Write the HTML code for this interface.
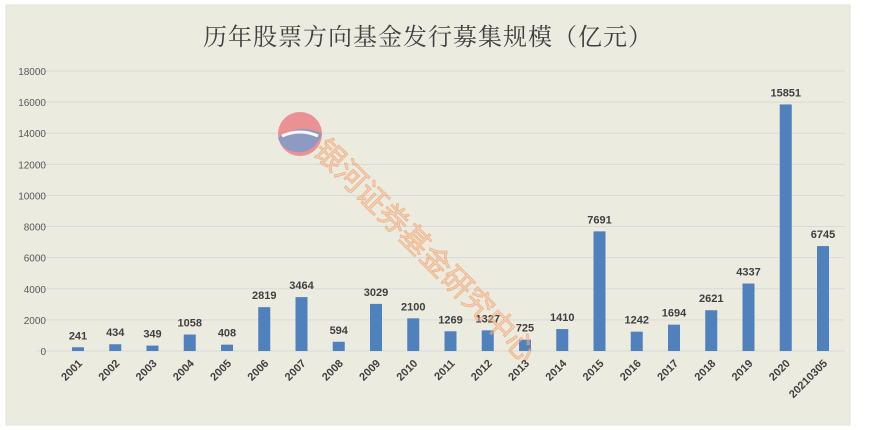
<!DOCTYPE html>
<html><head><meta charset="utf-8"><style>
body{margin:0;background:#fff;width:870px;height:430px;overflow:hidden}
svg{display:block}
</style></head><body>
<svg width="870" height="430">
<rect x="6" y="5" width="844" height="420" fill="#ecebe0" stroke="#e2e1da"/>
<text x="428" y="45" text-anchor="middle" font-family="'Noto Serif CJK SC','Liberation Serif',serif" font-size="24" fill="#404040" letter-spacing="1">历年股票方向基金发行募集规模（亿元）</text>
<g id="grid"></g>
<g id="bars"></g>
<g opacity="0.75">
<circle cx="300" cy="134" r="22" fill="#e8747a"/>
<path d="M278 138 Q300 122 322 134 Q314 154 296 152 Q282 150 278 138Z" fill="#6f7fb8"/>
<path d="M282 136 Q300 128 318 136" stroke="#fff" stroke-width="3" fill="none"/>
<text transform="translate(312,152) rotate(45)" font-family="'Liberation Sans','Noto Sans CJK SC',sans-serif" font-size="30" fill="#f5b98a" fill-opacity="0.7" stroke="#f0a070" stroke-width="0.8">银河证券基金研究中心</text>
</g>
<script>
const categories=["2001","2002","2003","2004","2005","2006","2007","2008","2009","2010","2011","2012","2013","2014","2015","2016","2017","2018","2019","2020","20210305"];
const values=[241,434,349,1058,408,2819,3464,594,3029,2100,1269,1327,725,1410,7691,1242,1694,2621,4337,15851,6745];
const yTicks=[0,2000,4000,6000,8000,10000,12000,14000,16000,18000];
const NS="http://www.w3.org/2000/svg";
const y=v=>351-v*(280/18000);
const x=i=>78+i*37.25;
function mk(t,a,p){const e=document.createElementNS(NS,t);for(const k in a)e.setAttribute(k,a[k]);p.appendChild(e);return e;}
const grid=document.getElementById('grid'),bars=document.getElementById('bars');
yTicks.forEach(t=>{
 const l=mk('line',{x1:36,x2:845,y1:y(t),y2:y(t),stroke:'#d9d9d9','stroke-width':1},grid);
 
 
 const tx=mk('text',{x:46,y:y(t)+4,'text-anchor':'end','font-family':'Liberation Sans,sans-serif','font-size':10,fill:'#595959'},grid);
 tx.textContent=t;
 
 
});
values.forEach((v,i)=>{
 const r=mk('rect',{x:x(i)-6,y:y(v),width:12,height:351-y(v),fill:'#4f81bd'},bars);
 
 
 const lb=mk('text',{x:x(i),y:y(v)-8,'text-anchor':'middle','font-family':'Liberation Sans,sans-serif','font-size':11,'font-weight':'bold',fill:'#404040'},bars);
 lb.textContent=v;
 
 
 const c=mk('text',{transform:`translate(${x(i)+5},${364}) rotate(-45)`,'text-anchor':'end','font-family':'Liberation Sans,sans-serif','font-size':11,'font-weight':'bold',fill:'#404040'},bars);
 c.textContent=categories[i];
 
 
});
</script>
</svg>
</body></html>
